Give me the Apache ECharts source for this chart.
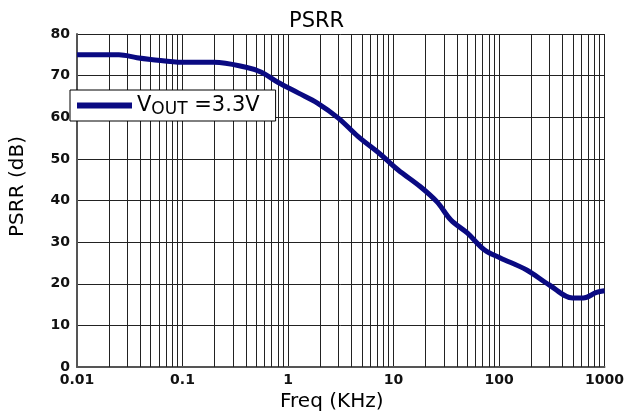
<!DOCTYPE html>
<html>
<head>
<meta charset="utf-8">
<script src="https://cdn.jsdelivr.net/npm/echarts@6/dist/echarts.min.js"></script>
<style>
  html, body { margin: 0; padding: 0; background: #fff; }
  #chart { width: 627px; height: 417px; }
</style>
</head>
<body>
<div id="chart"></div>
<script>
// PSRR vs frequency
const freq = [0.01, 0.02, 0.025, 0.037, 0.05, 0.1, 0.2, 0.4, 0.56, 0.8, 1.26, 1.9, 3, 4.6, 7.6, 11, 18, 26, 35, 50, 73, 103, 183, 300, 500, 630, 840, 1000];
const psrr = [75, 75, 75, 74.3, 73.9, 73.2, 73.2, 72.0, 70.8, 68.4, 65.8, 63.4, 59.8, 55.4, 51, 47.4, 43.3, 39.6, 35.3, 32.2, 28.1, 26.2, 23.3, 19.7, 16.6, 16.6, 17.9, 18.3];
const decades = [0.01, 0.1, 1, 10, 100];
const minorSteps = [2, 3, 4, 5, 6, 7, 8, 9];
const yTicks = [0, 10, 20, 30, 40, 50, 60, 70, 80];

const minorLines = [];
for (const d of decades) {
  for (const m of minorSteps) {
    minorLines.push({xAxis: +(d * m).toPrecision(3)});
  }
}

const font = 'DejaVu Sans';

echarts.init(document.getElementById('chart')).setOption({
  animation: false,
  backgroundColor: '#fff',
  title: {
    text: 'PSRR',
    left: 284,
    top: 6,
    textStyle: {fontFamily: font, fontSize: 21, fontWeight: 'normal', color: '#000'}
  },
  legend: {
    left: 70,
    top: 90,
    icon: 'rect',
    itemWidth: 55,
    itemHeight: 6,
    padding: [3, 16, 3, 7],
    backgroundColor: '#fff',
    borderColor: '#000',
    borderWidth: 1,
    borderRadius: 0,
    formatter: () => '{v|V}{s|OUT}{v| =3.3V}',
    textStyle: {
      fontFamily: font,
      color: '#000',
      rich: {
        v: {fontFamily: font, fontSize: 21, color: '#000', lineHeight: 22},
        s: {fontFamily: font, fontSize: 17, color: '#000', padding: [8, 0, 0, 0], lineHeight: 22}
      }
    }
  },
  grid: {left: 77, right: 20, top: 34, bottom: 50},
  xAxis: {
    type: 'log',
    logBase: 10,
    min: 0.01,
    max: 1000,
    name: 'Freq (KHz)',
    nameLocation: 'middle',
    nameGap: 21,
    nameTextStyle: {fontFamily: font, fontSize: 20, color: '#000', padding: [0, 18, 0, 0]},
    axisLine: {lineStyle: {color: '#555', width: 2}},
    axisTick: {show: false},
    axisLabel: {
      fontFamily: font, fontSize: 14, fontWeight: 'bold', color: '#111', margin: 6,
      formatter: v => String(+v.toPrecision(3))
    },
    splitLine: {show: true, lineStyle: {color: '#222', width: 1}}
  },
  yAxis: {
    type: 'value',
    min: yTicks[0],
    max: yTicks[yTicks.length - 1],
    interval: 10,
    name: 'PSRR (dB)',
    nameLocation: 'middle',
    nameGap: 49,
    nameTextStyle: {fontFamily: font, fontSize: 20, color: '#000', padding: [0, 0, 0, 28]},
    axisLine: {show: true, lineStyle: {color: '#555', width: 2}},
    axisTick: {show: false},
    axisLabel: {fontFamily: font, fontSize: 14, fontWeight: 'bold', color: '#111', margin: 7},
    splitLine: {show: true, lineStyle: {color: '#222', width: 1}}
  },
  series: [{
    name: 'VOUT=3.3V',
    type: 'line',
    data: freq.map((f, i) => [f, psrr[i]]),
    smooth: 0.35,
    showSymbol: false,
    color: '#0a0a82',
    lineStyle: {width: 5, color: '#0a0a82'},
    z: 5,
    markLine: {
      silent: true,
      symbol: 'none',
      label: {show: false},
      lineStyle: {color: '#222', width: 1, type: 'solid'},
      data: minorLines,
      z: 1
    }
  }]
});
</script>
</body>
</html>
